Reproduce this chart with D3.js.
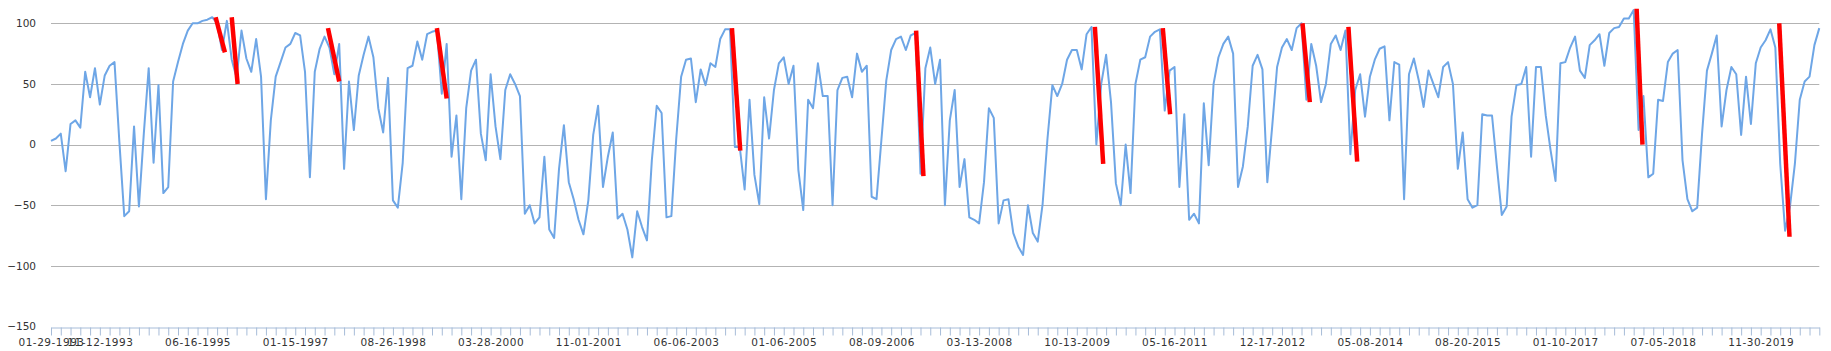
<!DOCTYPE html>
<html>
<head>
<meta charset="utf-8">
<script src="https://cdn.jsdelivr.net/npm/d3@7"></script>
<style>
  body { margin: 0; background: #fff; }
  svg text { font-family: "DejaVu Sans", sans-serif; font-size: 10.5px; fill: #333; }
</style>
</head>
<body>
<svg width="1831" height="351"></svg>
<script>
// weekly oscillator readings, one every half tick
const values = [
  3, 5, 9, -22, 17, 20, 14, 60, 39, 63, 33, 57, 65, 68, 2, -59, -55, 15, -51, 9,
  63, -15, 49, -40, -35, 52, 68, 83, 94, 100, 100, 102, 103, 105, 100, 78, 102, 70, 55, 94,
  71, 60, 87, 56, -45, 20, 56, 68, 80, 83, 92, 90, 60, -27, 60, 79, 89, 80, 58, 83,
  -20, 52, 12, 57, 74, 89, 72, 30, 10, 55, -46, -52, -15, 63, 65, 85, 70, 91, 93, 94,
  42, 83, -10, 24, -45, 30, 61, 70, 9, -13, 58, 15, -12, 45, 58, 50, 40, -57, -50, -65,
  -60, -10, -70, -77, -20, 16, -31, -45, -62, -74, -46, 8, 32, -35, -10, 10, -61, -57, -70, -93,
  -55, -68, -79, -13, 32, 26, -60, -59, 5, 56, 70, 71, 35, 62, 49, 67, 64, 87, 95, 95,
  -2, -2, -37, 37, -25, -49, 39, 5, 45, 67, 72, 50, 65, -21, -54, 37, 30, 67, 40, 40,
  -50, 45, 55, 56, 39, 75, 60, 65, -43, -45, 4, 53, 78, 87, 89, 78, 90, 92, -24, 63,
  80, 50, 70, -50, 20, 45, -35, -12, -60, -62, -65, -31, 30, 22, -65, -46, -45, -73, -84, -91,
  -50, -73, -80, -49, 5, 49, 40, 50, 70, 78, 78, 62, 91, 97, 0, 50, 74, 35, -32, -50,
  0, -40, 50, 70, 72, 89, 93, 95, 28, 61, 64, -35, 25, -62, -57, -65, 34, -17, 50, 72,
  83, 89, 75, -35, -18, 15, 65, 74, 62, -31, 15, 64, 80, 87, 78, 96, 100, 37, 83, 65,
  35, 50, 83, 90, 78, 94, -8, 45, 58, 23, 56, 70, 79, 81, 20, 68, 66, -45, 58, 71,
  53, 31, 61, 50, 39, 64, 68, 50, -20, 10, -45, -52, -50, 25, 24, 24, -18, -58, -51, 23,
  49, 50, 64, -10, 64, 64, 24, -5, -30, 67, 68, 80, 89, 61, 55, 82, 86, 91, 65, 92,
  96, 97, 104, 104, 111, 12, 40, -27, -24, 37, 36, 68, 75, 78, -13, -45, -55, -52, 9, 61,
  75, 90, 15, 45, 64, 58, 8, 56, 17, 67, 80, 86, 95, 80, -16, -71, -51, -16, 37, 52,
  56, 82, 96
];

const tickLabels = ["01-29-1993", "11-12-1993", "06-16-1995", "01-15-1997", "08-26-1998",
  "03-28-2000", "11-01-2001", "06-06-2003", "01-06-2005", "08-09-2006", "03-13-2008",
  "10-13-2009", "05-16-2011", "12-17-2012", "05-08-2014", "08-20-2015", "01-10-2017",
  "07-05-2018", "11-30-2019"];
const labelIndex = [0, 10, 30, 50, 70, 90, 110, 130, 150, 170, 190, 210, 230, 250, 270, 290, 310, 330, 350];

const yTicks = [-150, -100, -50, 0, 50, 100];

// red drops: start/end position (sample index) and value
const dropStart = [33.7, 37.0, 56.7, 79.0, 139.4, 177.1, 213.7, 227.6, 256.2, 265.6, 324.6, 353.8];
const dropStartVal = [105, 105, 96, 96, 96, 94, 97, 96, 100, 97, 112, 100];
const dropEnd = [35.6, 38.2, 59.0, 81.0, 141.1, 178.6, 215.4, 229.1, 257.7, 267.4, 325.8, 355.9];
const dropEndVal = [76, 50, 52, 38, -5, -26, -16, 25, 35, -14, 0, -76];

const svg = d3.select("svg");
const plotLeft = 51, plotRight = 1819.3, plotTop = 23.3, plotBottom = 326.5;

const x = d3.scaleLinear().domain([0, values.length - 1]).range([plotLeft, plotRight]);
const y = d3.scaleLinear().domain([-150, 100]).range([plotBottom, plotTop]);

// gridlines
svg.append("g")
  .selectAll("line")
  .data(yTicks.filter(d => d > -150))
  .join("line")
  .attr("x1", plotLeft).attr("x2", plotRight)
  .attr("y1", d => Math.round(y(d)) + 0.5).attr("y2", d => Math.round(y(d)) + 0.5)
  .attr("stroke", "#b3b3b3")
  .attr("stroke-width", 1);

// y labels
const yAxis = svg.append("g")
  .attr("transform", `translate(${plotLeft},0)`)
  .call(d3.axisLeft(y).tickValues(yTicks).tickSize(0).tickPadding(15));
yAxis.select(".domain").remove();
yAxis.selectAll("text").style("font-size", "10.5px");

// x axis
const labelMap = new Map(labelIndex.map((d, i) => [d, tickLabels[i]]));
const xAxis = svg.append("g")
  .attr("transform", `translate(0,${Math.round(plotBottom) + 0.5})`)
  .call(d3.axisBottom(x)
    .tickValues(d3.range(0, values.length, 2))
    .tickSize(8)
    .tickSizeOuter(0)
    .tickPadding(3)
    .tickFormat(d => labelMap.get(d) || ""));
xAxis.select(".domain").attr("stroke", "#a7bcd8");
xAxis.selectAll(".tick line").attr("stroke", "#a7bcd8");
xAxis.selectAll("text").style("font-size", "10.5px").style("letter-spacing", "0.5px");

// main series
const line = d3.line()
  .x((d, i) => x(i))
  .y(d => y(d));

svg.append("path")
  .datum(values)
  .attr("fill", "none")
  .attr("stroke", "#6ea6e6")
  .attr("stroke-width", 2)
  .attr("stroke-linejoin", "round")
  .attr("d", line);

// red drop segments
svg.append("g")
  .selectAll("line")
  .data(dropStart)
  .join("line")
  .attr("x1", d => x(d))
  .attr("y1", (d, i) => y(dropStartVal[i]))
  .attr("x2", (d, i) => x(dropEnd[i]))
  .attr("y2", (d, i) => y(dropEndVal[i]))
  .attr("stroke", "#ff0000")
  .attr("stroke-width", 4.5);
</script>
</body>
</html>
